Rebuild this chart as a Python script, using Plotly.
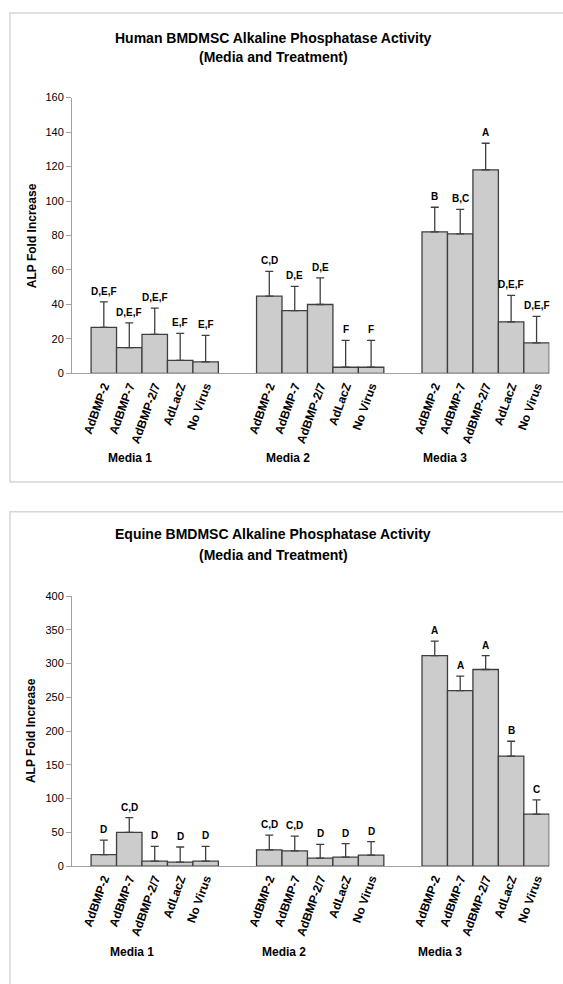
import plotly.graph_objects as go

treatments = ["AdBMP-2", "AdBMP-7", "AdBMP-2/7", "AdLacZ", "No Virus"]
media = ["Media 1", "Media 2", "Media 3"]

human_mean = [26.7, 15.0, 22.7, 7.6, 6.7,
              44.8, 36.4, 40.0, 3.6, 3.6,
              82.1, 81.0, 118.1, 29.9, 17.7]
human_err = [14.8, 14.3, 15.2, 15.6, 15.4,
             14.4, 14.1, 15.4, 15.6, 15.6,
             14.3, 14.2, 15.4, 15.4, 15.4]
human_letters = ["D,E,F", "D,E,F", "D,E,F", "E,F", "E,F",
                 "C,D", "D,E", "D,E", "F", "F",
                 "B", "B,C", "A", "D,E,F", "D,E,F"]

equine_mean = [17.1, 49.8, 7.3, 5.9, 7.3,
               23.9, 22.4, 11.7, 13.2, 16.1,
               311.7, 260.0, 291.2, 162.9, 77.1]
equine_err = [21.4, 21.9, 22.0, 22.4, 22.0,
              22.0, 22.0, 20.5, 20.0, 20.0,
              21.5, 21.5, 20.5, 22.0, 20.9]
equine_letters = ["D", "C,D", "D", "D", "D",
                  "C,D", "C,D", "D", "D", "D",
                  "A", "A", "A", "B", "C"]

titles = ["Human BMDMSC Alkaline Phosphatase Activity",
          "Equine BMDMSC Alkaline Phosphatase Activity"]
subtitle = "(Media and Treatment)"
y_title = "ALP Fold Increase"

W, H = 563, 984
FONT = "Liberation Sans, Arial, sans-serif"


def px(x):
    return x / W


def py(y):
    return 1 - y / H


# category positions (slot units): groups of 5 separated by 1.5-slot gaps
positions = []
for g in range(len(media)):
    for i in range(len(treatments)):
        positions.append(0.75 + g * 6.5 + i + 0.5)
ticktext = treatments * len(media)

fig = go.Figure()

charts = [
    dict(mean=human_mean, err=human_err, letters=human_letters, xa="x", ya="y",
         ymax=160, dtick=20, top=92.7, bottom=372.0, box=(7, 482),
         t1=32, t2=52, media_y=458, media_x=[130, 288, 445], ytitle_y=233, ytitle_x=32),
    dict(mean=equine_mean, err=equine_err, letters=equine_letters, xa="x2", ya="y2",
         ymax=400, dtick=50, top=597.3, bottom=870.7, box=(512, 1000),
         t1=535, t2=556, media_y=958, media_x=[132, 284, 440], ytitle_y=734, ytitle_x=31),
]

annotations = []
shapes = []
for k, c in enumerate(charts):
    fig.add_trace(go.Bar(
        x=positions, y=c["mean"], width=[1] * len(positions),
        xaxis=c["xa"], yaxis=c["ya"],
        marker=dict(color="#CCCCCC", line=dict(color="#3F3F3F", width=1.3)),
        error_y=dict(type="data", array=c["err"], arrayminus=[0] * len(c["err"]),
                     symmetric=False, color="#3F3F3F", thickness=1.3, width=4),
        showlegend=False, hoverinfo="skip",
    ))
    for xp, m, e, lab in zip(positions, c["mean"], c["err"], c["letters"]):
        annotations.append(dict(
            x=xp, y=m + e, xref=c["xa"], yref=c["ya"], text=lab, showarrow=False,
            yanchor="bottom", yshift=3,
            font=dict(family=FONT, size=10, color="black", weight="bold")))
    annotations.append(dict(x=px(273), y=py(c["t1"]), xref="paper", yref="paper",
                            text=titles[k], showarrow=False, xanchor="center", yanchor="middle",
                            font=dict(family=FONT, size=14, color="black", weight="bold")))
    annotations.append(dict(x=px(273), y=py(c["t2"]), xref="paper", yref="paper",
                            text=subtitle, showarrow=False, xanchor="center", yanchor="middle",
                            font=dict(family=FONT, size=14, color="black", weight="bold")))
    annotations.append(dict(x=px(c["ytitle_x"]), y=py(c["ytitle_y"]), xref="paper", yref="paper",
                            text=y_title, showarrow=False, textangle=-90,
                            xanchor="center", yanchor="middle",
                            font=dict(family=FONT, size=12, color="black", weight="bold")))
    for mx, mname in zip(c["media_x"], media):
        annotations.append(dict(x=px(mx), y=py(c["media_y"]), xref="paper", yref="paper",
                                text=mname, showarrow=False, xanchor="center", yanchor="middle",
                                font=dict(family=FONT, size=12, color="black", weight="bold")))
    shapes.append(dict(type="rect", xref="paper", yref="paper",
                       x0=px(10), x1=1.05, y0=py(c["box"][1]), y1=py(c["box"][0]),
                       line=dict(color="#D6D6D6", width=1.5), fillcolor="rgba(0,0,0,0)",
                       layer="below"))

    xaxis = dict(domain=[px(72), px(549.3)], range=[0, 18.75], anchor=c["ya"],
                 showline=True, linecolor="#A0A0A0", linewidth=1, ticks="",
                 tickmode="array", tickvals=positions, ticktext=ticktext, tickangle=-70,
                 tickfont=dict(family=FONT, size=12, color="black", weight="bold"),
                 showgrid=False, zeroline=False, fixedrange=True)
    yaxis = dict(domain=[py(c["bottom"]), py(c["top"])], range=[0, c["ymax"]],
                 dtick=c["dtick"], tick0=0, anchor=c["xa"],
                 showline=True, linecolor="#A0A0A0", linewidth=1,
                 ticks="outside", ticklen=5, tickcolor="#A0A0A0",
                 tickfont=dict(family=FONT, size=11, color="black"),
                 showgrid=False, zeroline=False, fixedrange=True)
    if k == 0:
        fig.update_layout(xaxis=xaxis, yaxis=yaxis)
    else:
        fig.update_layout(xaxis2=xaxis, yaxis2=yaxis)

fig.update_layout(
    width=W, height=H, margin=dict(l=0, r=0, t=0, b=0),
    paper_bgcolor="white", plot_bgcolor="white",
    annotations=annotations, shapes=shapes, showlegend=False,
    font=dict(family=FONT, color="black"),
)

fig.write_html("out.html", config={"displayModeBar": False},
               post_script="document.body.style.margin='0px';document.body.style.overflow='hidden';")
